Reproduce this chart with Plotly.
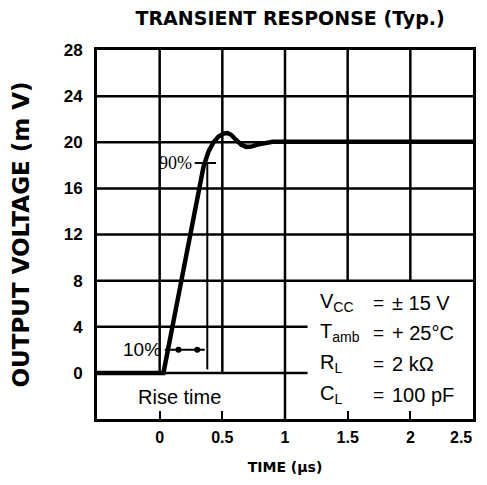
import plotly.graph_objects as go

# ---- data ----
time_us = [-0.5, 0.03, 0.10, 0.20, 0.30, 0.35, 0.39, 0.43, 0.47, 0.51, 0.54, 0.57, 0.61, 0.65, 0.69, 0.73, 0.78, 0.84, 0.90, 2.5]
voltage_mv = [0.0, 0.0, 3.9, 9.6, 15.3, 17.9, 19.2, 20.0, 20.5, 20.75, 20.8, 20.65, 20.2, 19.8, 19.6, 19.62, 19.8, 19.97, 20.05, 20.05]

x_ticks = [0, 0.5, 1, 1.5, 2, 2.5]
x_ticktext = ["0", "0.5", "1", "1.5", "2", "2.5"]
y_ticks = [0, 4, 8, 12, 16, 20, 24, 28]
y_ticktext = ["0", "4", "8", "12", "16", "20", "24", "28"]

rise_start_us = 0.04
rise_end_us = 0.38
level10_mv = 2.0
level90_mv = 18.2

cond_labels = ["V<sub>CC</sub>", "T<sub>amb</sub>", "R<sub>L</sub>", "C<sub>L</sub>"]
cond_values = ["± 15 V", "+ 25°C", "2 kΩ", "100 pF"]

fig = go.Figure()

# grid segments (structural)
LW = 2.5
shapes = []
def seg(x0, y0, x1, y1, w=LW):
    shapes.append(dict(type="line", xref="x", yref="y", x0=x0, y0=y0, x1=x1, y1=y1,
                       line=dict(color="black", width=w), layer="below"))

for yv in [8, 12, 16, 20, 24]:
    seg(-0.5, yv, 2.5, yv)
for yv in [0, 4]:
    seg(-0.5, yv, 1.18, yv)
for xv in [0, 0.5]:
    seg(xv, 0, xv, 28)
seg(1, -4, 1, 28)
for xv in [1.5, 2]:
    seg(xv, 8, xv, 28)

# rise-time markers
seg(rise_end_us, level90_mv, rise_end_us, 0.3, w=2)
seg(0.28, level90_mv, 0.45, level90_mv, w=2)
seg(rise_start_us, level10_mv, rise_end_us - 0.02, level10_mv, w=2)

fig.add_trace(go.Scatter(
    x=[0.15, 0.30], y=[level10_mv, level10_mv], mode="markers",
    marker=dict(color="black", size=6), showlegend=False, hoverinfo="skip"))

fig.add_trace(go.Scatter(
    x=time_us, y=voltage_mv, mode="lines", line=dict(color="black", width=4.5),
    showlegend=False))

TICKFONT = dict(size=16, color="black", family="Liberation Sans", weight="bold")

ann = []
ann.append(dict(x=0.27, y=level90_mv, xref="x", yref="y", text="90%", showarrow=False,
                xanchor="right", yanchor="middle", font=dict(size=18, color="black", family="Liberation Serif")))
ann.append(dict(x=0.03, y=level10_mv, xref="x", yref="y", text="10%", showarrow=False,
                xanchor="right", yanchor="middle", font=dict(size=19, color="black", family="Liberation Sans")))
ann.append(dict(x=0.16, y=-2.1, xref="x", yref="y", text="Rise time", showarrow=False,
                xanchor="center", yanchor="middle", font=dict(size=20, color="black", family="Liberation Sans")))
# last x tick label, kept inside the page edge
ann.append(dict(x=1.0, y=0, xref="paper", yref="paper", text=x_ticktext[-1], showarrow=False,
                xanchor="right", yanchor="top", yshift=-8, xshift=1, font=TICKFONT))

row_y = [6.1, 3.5, 0.8, -1.9]
for lab, val, ry in zip(cond_labels, cond_values, row_y):
    ann.append(dict(x=1.26, y=ry, xref="x", yref="y", text=lab, showarrow=False,
                    xanchor="left", yanchor="middle", font=dict(size=20, color="black", family="Liberation Sans")))
    ann.append(dict(x=1.69, y=ry, xref="x", yref="y", text="=", showarrow=False,
                    xanchor="left", yanchor="middle", font=dict(size=19, color="black", family="Liberation Sans")))
    ann.append(dict(x=1.84, y=ry, xref="x", yref="y", text=val, showarrow=False,
                    xanchor="left", yanchor="middle", font=dict(size=20, color="black", family="Liberation Sans")))

fig.update_layout(
    width=471, height=469,
    margin=dict(l=89, r=6, t=42, b=58),
    paper_bgcolor="white", plot_bgcolor="white",
    shapes=shapes, annotations=ann,
    title=dict(text="TRANSIENT RESPONSE (Typ.)", x=0.599, xanchor="center", y=0.978, yanchor="middle",
               font=dict(size=19, color="black", family="DejaVu Sans", weight="bold")),
    xaxis=dict(range=[-0.5, 2.5], tickvals=x_ticks[:-1], ticktext=x_ticktext[:-1], showgrid=False, zeroline=False,
               showline=True, mirror=True, linecolor="black", linewidth=3, automargin=False,
               ticks="inside", ticklen=8, tickwidth=2, tickcolor="black", ticklabelstandoff=2,
               tickfont=TICKFONT,
               title=dict(text="TIME (µs)", standoff=17, font=dict(size=14, color="black", family="DejaVu Sans", weight="bold"))),
    yaxis=dict(range=[-4, 28], tickvals=y_ticks, ticktext=y_ticktext, showgrid=False, zeroline=False,
               showline=True, mirror=True, linecolor="black", linewidth=3, automargin=False,
               ticks="inside", ticklen=0, tickcolor="black", ticklabelstandoff=8,
               tickfont=dict(size=17, color="black", family="Liberation Sans", weight="bold"),
               title=dict(text="OUTPUT VOLTAGE (m V)", standoff=37, font=dict(size=23, color="black", family="DejaVu Sans", weight="bold"))),
)

fig.write_html("out.html")
